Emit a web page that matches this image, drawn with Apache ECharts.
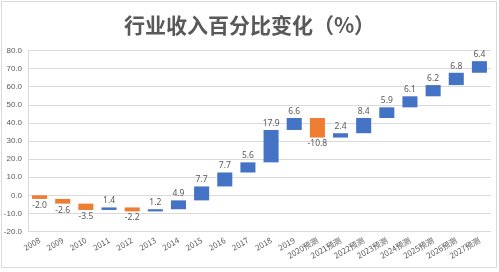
<!DOCTYPE html>
<html><head><meta charset="utf-8">
<script src="https://cdn.jsdelivr.net/npm/echarts@6/dist/echarts.min.js"></script>
<style>html,body{margin:0;padding:0;background:#fff}#c{width:499px;height:272px}</style>
</head><body><div id="c"></div>
<script>
var categories = ['2008','2009','2010','2011','2012','2013','2014','2015','2016','2017','2018','2019','2020预测','2021预测','2022预测','2023预测','2024预测','2025预测','2026预测','2027预测'];
var values = [-2.0,-2.6,-3.5,1.4,-2.2,1.2,4.9,7.7,7.7,5.6,17.9,6.6,-10.8,2.4,8.4,5.9,6.1,6.2,6.8,6.4];
var yTicks = {min:-20, max:80, interval:10};

var rows = [];
var cum = 0;
for (var i=0;i<values.length;i++){ var s=cum; cum = +(cum+values[i]).toFixed(2); rows.push([i, s, cum, values[i]]); }

var chart = echarts.init(document.getElementById('c'));
chart.setOption({
  animation:false,
  title:{text:'行业收入百分比变化（%）', left:'center', top:10,
    textStyle:{fontFamily:'Noto Sans CJK SC', fontSize:21, fontWeight:'bold', color:'#595959'}},
  graphic:[{type:'rect', shape:{x:1.5,y:1.5,width:495,height:266}, style:{fill:null, stroke:'#D9D9D9', lineWidth:1}, silent:true}],
  grid:{left:28, right:8, top:50.5, bottom:40.5},
  xAxis:{type:'category', data:categories,
    axisLine:{show:false}, axisTick:{show:false},
    axisLabel:{rotate:30, fontSize:8, color:'#595959', margin:8, interval:0, fontFamily:'Noto Sans CJK SC'}},
  yAxis:{type:'value', min:yTicks.min, max:yTicks.max, interval:yTicks.interval,
    axisLine:{show:true, lineStyle:{color:'#D9D9D9'}}, axisTick:{show:false},
    splitLine:{lineStyle:{color:'#D9D9D9'}},
    axisLabel:{fontSize:8, color:'#595959', margin:6, formatter:function(v){return v.toFixed(1);}}},
  series:[{type:'custom', data:rows, encode:{x:0, y:[1,2]},
    renderItem:function(params, api){
      var i=api.value(0), s=api.value(1), e=api.value(2), v=api.value(3);
      var p1=api.coord([i,s]), p2=api.coord([i,e]);
      var w=api.size([1,0])[0]*0.65;
      var top=Math.min(p1[1],p2[1]), bot=Math.max(p1[1],p2[1]);
      var color = v<0 ? '#ED7D31' : '#4472C4';
      var txt = v.toFixed(1);
      return {type:'group', children:[
        {type:'rect', shape:{x:p1[0]-w/2, y:top, width:w, height:Math.max(bot-top,1)}, style:{fill:color}},
        {type:'text', x:p1[0], y: v<0 ? bot+2 : top-2,
          style:{text:txt, fill:'#595959', fontSize:8.5, fontFamily:'Noto Sans', align:'center', verticalAlign: v<0?'top':'bottom'}}
      ]};
    }}]
});
</script></body></html>
